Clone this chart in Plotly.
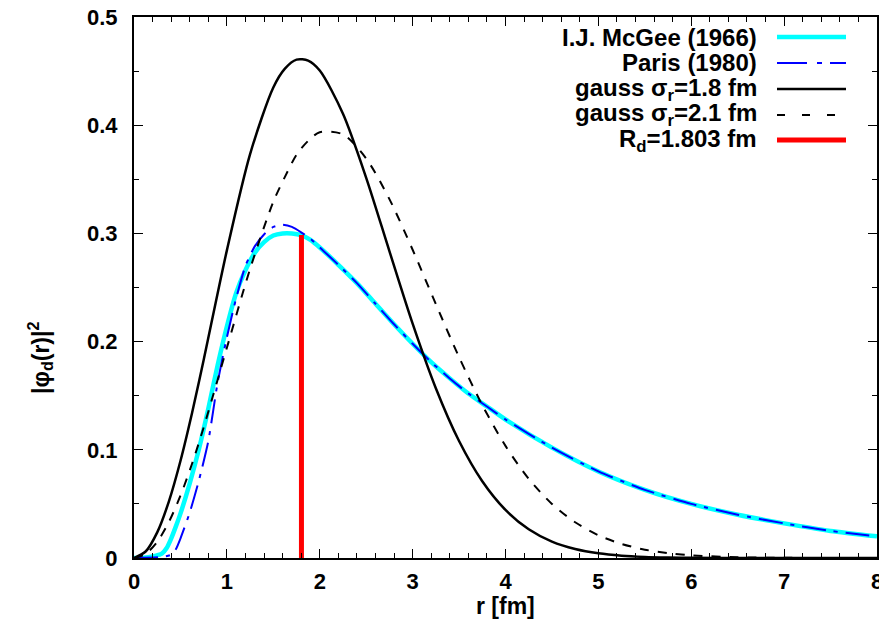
import plotly.graph_objects as go

# ---------------- data ----------------
r_mcgee = [0.0, 0.1, 0.2, 0.3, 0.35, 0.4, 0.45, 0.5, 0.6, 0.7, 0.8, 0.9, 1.0, 1.1, 1.2, 1.3,
           1.4, 1.5, 1.6, 1.7, 1.8, 1.9, 2.0, 2.2, 2.4, 2.6, 2.8, 3.0, 3.2, 3.4, 3.6, 3.8,
           4.0, 4.5, 5.0, 5.5, 6.0, 6.5, 7.0, 7.5, 8.0]
phi_mcgee = [0.0, 0.0003, 0.0015, 0.004, 0.009, 0.018, 0.029, 0.041, 0.069, 0.101, 0.138, 0.178,
             0.214, 0.245, 0.266, 0.282, 0.292, 0.298, 0.300, 0.300, 0.2985, 0.294, 0.287,
             0.271, 0.254, 0.235, 0.216, 0.198, 0.181, 0.166, 0.152, 0.140, 0.128, 0.102,
             0.080, 0.063, 0.050, 0.040, 0.032, 0.025, 0.020]

r_paris = [0.0, 0.2, 0.3, 0.4, 0.45, 0.5, 0.6, 0.7, 0.8, 0.9, 1.0, 1.1, 1.2, 1.3, 1.4, 1.5,
           1.6, 1.7, 1.8, 1.9, 2.0, 2.2, 2.4, 2.6, 2.8, 3.0, 3.2, 3.4, 3.6, 3.8, 4.0, 4.5,
           5.0, 5.5, 6.0, 6.5, 7.0, 7.5, 8.0]
phi_paris = [0.0, 0.0005, 0.001, 0.003, 0.008, 0.018, 0.042, 0.072, 0.108, 0.162, 0.204,
             0.240, 0.270, 0.288, 0.299, 0.306, 0.308, 0.306, 0.301, 0.295, 0.287, 0.271,
             0.254, 0.235, 0.216, 0.198, 0.181, 0.166, 0.152, 0.140, 0.128, 0.102, 0.080,
             0.063, 0.050, 0.040, 0.032, 0.025, 0.020]

r_gauss = [0.0, 0.125, 0.25, 0.375, 0.5, 0.625, 0.75, 1.0, 1.25, 1.5, 1.625, 1.75, 1.875,
           2.0, 2.25, 2.5, 2.75, 3.0, 3.25, 3.5, 3.75, 4.0, 4.25, 4.5, 4.75, 5.0, 5.25, 5.5,
           5.75, 6.0, 6.5, 7.0, 7.5, 8.0]
phi_gauss18 = [0.0, 0.0060, 0.0237, 0.0521, 0.0896, 0.1340, 0.1830, 0.2843, 0.3733, 0.4349,
               0.4523, 0.4606, 0.4597, 0.4505, 0.4106, 0.3514, 0.2836, 0.2166, 0.1569,
               0.1081, 0.0709, 0.0444, 0.0265, 0.0151, 0.0083, 0.0043, 0.0021, 0.0010,
               0.0005, 0.0002, 0.0, 0.0, 0.0, 0.0]
phi_gauss21 = [0.0, 0.0038, 0.0150, 0.0332, 0.0576, 0.0871, 0.1207, 0.1943, 0.2672, 0.3292,
               0.3522, 0.3727, 0.3855, 0.3935, 0.3915, 0.3692, 0.3317, 0.2849, 0.2347,
               0.1856, 0.1413, 0.1036, 0.0732, 0.0500, 0.0330, 0.0210, 0.0130, 0.0077,
               0.0045, 0.0025, 0.0007, 0.0002, 0.0, 0.0]

R_d = 1.803
phi_at_Rd = 0.2985

legend_labels = ["I.J. McGee (1966)", "Paris (1980)", "gauss σ<sub>r</sub>=1.8 fm",
                 "gauss σ<sub>r</sub>=2.1 fm", "R<sub>d</sub>=1.803 fm"]
x_ticks = [0, 1, 2, 3, 4, 5, 6, 7, 8]
y_ticks = [0, 0.1, 0.2, 0.3, 0.4, 0.5]

# ---------------- styles ----------------
FONT = "Liberation Sans, Arial, Helvetica, sans-serif"
styles = [
    dict(color="#00FFFF", width=4.5, dash="solid"),
    dict(color="#0000FF", width=2, dash="24px,8px,4px,8px"),
    dict(color="#000000", width=2.5, dash="solid"),
    dict(color="#000000", width=2, dash="9px,9px"),
    dict(color="#FF0000", width=5, dash="solid"),
]
legend_dash = ["solid", "30px,10px,5px,8px", "solid", "8px,17px", "solid"]

fig = go.Figure()
fig.add_trace(go.Scatter(x=r_mcgee, y=phi_mcgee, mode="lines", line=dict(styles[0], shape="spline", smoothing=0.6)))
fig.add_trace(go.Scatter(x=r_paris, y=phi_paris, mode="lines", line=dict(styles[1], shape="spline", smoothing=0.6)))
fig.add_trace(go.Scatter(x=r_gauss, y=phi_gauss18, mode="lines", line=dict(styles[2], shape="spline", smoothing=0.8)))
fig.add_trace(go.Scatter(x=r_gauss, y=phi_gauss21, mode="lines", line=dict(styles[3], shape="spline", smoothing=0.8)))
fig.add_trace(go.Scatter(x=[R_d, R_d], y=[0, phi_at_Rd], mode="lines", line=styles[4]))

# ---------------- layout ----------------
# page body has an 8px margin; figure placed so that the plot box matches the reference
OFF = 8
W, H = 879, 627
L, T = 126, 9
pw, ph = 743, 541
R, B = W - L - pw, H - T - ph

def px_to_paper(xp, yp):
    # xp, yp are window pixel coordinates
    return (xp - OFF - L) / pw, (T + ph - (yp - OFF)) / ph

annotations = []
shapes = []
row_y = [37, 63, 89, 115, 140]
for lab, yp, st, ld in zip(legend_labels, row_y, styles, legend_dash):
    xa, ya = px_to_paper(759, yp)
    annotations.append(dict(x=xa, y=ya, xref="paper", yref="paper", text=lab, showarrow=False,
                            xanchor="right", yanchor="middle",
                            font=dict(family=FONT, size=24, color="black", weight="bold")))
    x0, y0 = px_to_paper(777, yp)
    x1, _ = px_to_paper(846, yp)
    shapes.append(dict(type="line", xref="paper", yref="paper", x0=x0, x1=x1, y0=y0, y1=y0,
                       line=dict(color=st["color"], width=st["width"], dash=ld)))

# axis titles
xt, yt = px_to_paper(40, 358)
annotations.append(dict(x=xt, y=yt, xref="paper", yref="paper", text="|φ<sub>d</sub>(r)|<sup>2</sup>",
                        showarrow=False, textangle=-90, xanchor="center", yanchor="middle",
                        font=dict(family=FONT, size=23, color="black", weight="bold")))
xx, xy = px_to_paper(505, 606)
annotations.append(dict(x=xx, y=xy, xref="paper", yref="paper", text="r [fm]",
                        showarrow=False, xanchor="center", yanchor="middle",
                        font=dict(family=FONT, size=23, color="black", weight="bold")))

axis_common = dict(showline=True, linecolor="black", linewidth=2, mirror="allticks",
                   ticks="inside", ticklen=9, tickwidth=1.2, tickcolor="black",
                   showgrid=False, zeroline=False, ticklabeloverflow="allow",
                   tickfont=dict(family=FONT, size=22, color="black", weight="bold"))

fig.update_layout(
    width=W, height=H,
    margin=dict(l=L, r=R, t=T, b=B, autoexpand=False),
    plot_bgcolor="white", paper_bgcolor="white",
    showlegend=False,
    xaxis=dict(axis_common, range=[0, 8], tickvals=x_ticks, ticklabelstandoff=3,
               minor=dict(ticks="inside", dtick=0.2, ticklen=5, tickwidth=1, tickcolor="black")),
    yaxis=dict(axis_common, range=[0, 0.5], tickvals=y_ticks, ticklabelstandoff=10,
               minor=dict(ticks="inside", dtick=0.05, ticklen=5, tickwidth=1, tickcolor="black")),
    annotations=annotations, shapes=shapes,
)

fig.write_html("out.html")
